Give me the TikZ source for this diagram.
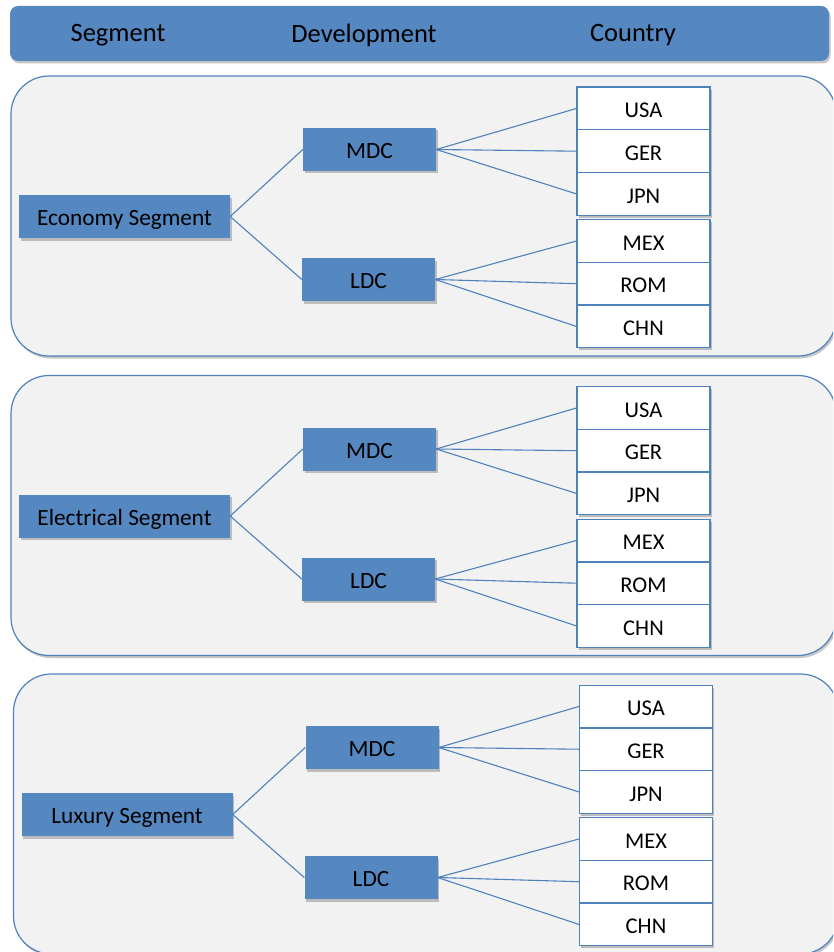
\documentclass[tikz,border=0pt]{standalone}
\usepackage{fontspec}
\setmainfont{Carlito}
\usepackage{tikz}
\usetikzlibrary{shadows}

\definecolor{offblue}{HTML}{5587C1}
\definecolor{offline}{HTML}{4F81BD}
\definecolor{panelgray}{HTML}{F2F2F2}

\begin{document}
\begin{tikzpicture}[x=1pt, y=-1pt, font=\fontsize{22.5}{26}\selectfont,
    shadowed/.style={drop shadow={shadow xshift=1.5pt, shadow yshift=-2.5pt, opacity=0.22, fill=black}},
    hdr/.style={fill=offblue, rounded corners=8pt, minimum width=819pt, minimum height=55pt, shadowed},
    panel/.style={draw=offline, line width=1.2pt, fill=panelgray, rounded corners=38pt, shadowed},
    bluebox/.style={fill=offblue, minimum height=43pt, inner sep=0pt, text height=18.5pt, text depth=0pt, font=\fontsize{23.3}{26}\selectfont, shadowed},
    ctry/.style={draw=offline, line width=1.3pt, fill=white, minimum width=133pt, minimum height=42.7pt, inner sep=0pt, text height=18.5pt, text depth=0pt, shadowed},
    link/.style={draw=offline, line width=1.1pt}]
    \clip (0,0) rectangle (833,952);

    % header bar
    \node[hdr] (head) at (419.5,33.5) {};
    \node[font=\fontsize{26.5}{30}\selectfont] (hseg) at (118,35.5) {Segment};
    \node[font=\fontsize{26.5}{30}\selectfont] (hdev) at (364,35.5) {Development};
    \node[font=\fontsize{26.5}{30}\selectfont] (hcty) at (633,35.5) {Country};

    % one panel per segment
    \foreach \seg/\dx/\dy/\i in {Economy/0/0/1, Electrical/0/299.5/2, Luxury/2.5/598/3} {
      \begin{scope}[shift={(\dx,\dy)}]
        \draw[panel] (11,76) rectangle (836,356);
        \node[bluebox, minimum width=211pt] (seg\i) at (124.5,216.5) {\seg\ Segment};
        \node[bluebox, minimum width=133pt] (mdc\i) at (369.5,149.5) {MDC};
        \node[bluebox, minimum width=133pt] (ldc\i) at (368.5,279.5) {LDC};
        \node[ctry] (usa\i) at (643.5,108.5) {USA};
        \node[ctry] (ger\i) at (643.5,151.2) {GER};
        \node[ctry] (jpn\i) at (643.5,193.9) {JPN};
        \node[ctry] (mex\i) at (643.5,241) {MEX};
        \node[ctry] (rom\i) at (643.5,283.7) {ROM};
        \node[ctry] (chn\i) at (643.5,326.4) {CHN};

        \draw[link] (seg\i.east) -- (mdc\i.west) (seg\i.east) -- (ldc\i.west);
        \foreach \c in {usa,ger,jpn} \draw[link] (mdc\i.east) -- (\c\i.west);
        \foreach \c in {mex,rom,chn} \draw[link] (ldc\i.east) -- (\c\i.west);
      \end{scope}
    }
\end{tikzpicture}
\end{document}
